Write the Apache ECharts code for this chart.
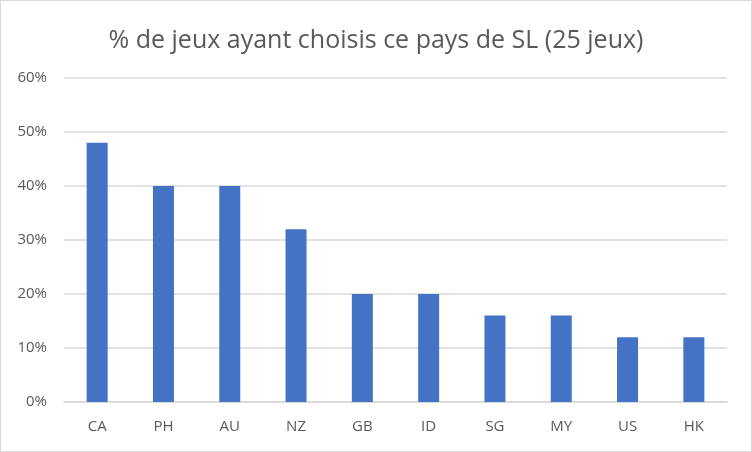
<!DOCTYPE html>
<html><head><meta charset="utf-8">
<style>html,body{margin:0;padding:0;background:#fff}#c{width:752px;height:452px;box-sizing:border-box;border:1.5px solid #d9d9d9}</style>
<script src="https://cdn.jsdelivr.net/npm/echarts@6/dist/echarts.min.js"></script>
</head><body><div id="c"></div>
<script>
const categories = ['CA','PH','AU','NZ','GB','ID','SG','MY','US','HK'];
const values = [0.48,0.40,0.40,0.32,0.20,0.20,0.16,0.16,0.12,0.12];
const titleText = '% de jeux ayant choisis ce pays de SL (25 jeux)';
const chart = echarts.init(document.getElementById('c'), null, {renderer:'canvas'});
chart.setOption({
  animation:false,
  title:{text:titleText,left:'center',top:22,textStyle:{fontFamily:'Open Sans',fontSize:25,fontWeight:'normal',color:'#595959'}},
  grid:{left:63,right:24,top:77,bottom:49,containLabel:false},
  xAxis:{type:'category',data:categories,axisTick:{show:false},
    axisLine:{lineStyle:{color:'#d9d9d9',width:1.5}},
    axisLabel:{color:'#595959',fontFamily:'Open Sans',fontSize:15,margin:17}},
  yAxis:{type:'value',min:0,max:0.6,interval:0.1,
    axisLabel:{color:'#595959',fontFamily:'Open Sans',fontSize:15,margin:17,formatter:v=>Math.round(v*100)+'%'},
    splitLine:{lineStyle:{color:'#d9d9d9',width:1.5}},axisLine:{show:false},axisTick:{show:false}},
  series:[{type:'bar',data:values,barWidth:21,itemStyle:{color:'#4472c4'}}]
});
</script></body></html>
